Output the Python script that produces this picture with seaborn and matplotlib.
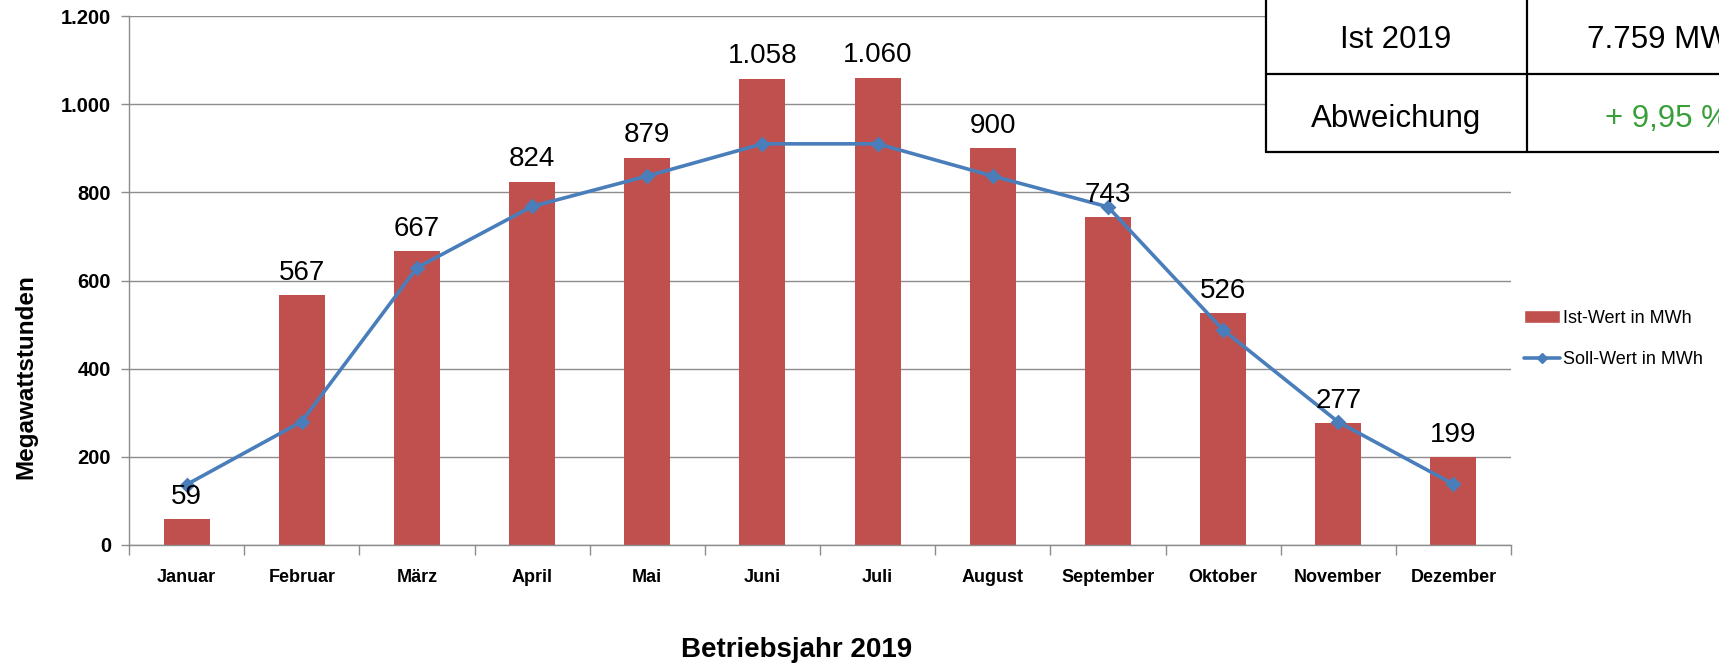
import matplotlib
matplotlib.use("Agg")
import matplotlib.pyplot as plt
import seaborn as sns
import pandas as pd
from matplotlib.lines import Line2D
from matplotlib.patches import Patch, Rectangle
from matplotlib.ticker import FuncFormatter

# Daten
monate = ["Januar", "Februar", "März", "April", "Mai", "Juni", "Juli",
          "August", "September", "Oktober", "November", "Dezember"]
ist_mwh = [59, 567, 667, 824, 879, 1058, 1060, 900, 743, 526, 277, 199]
soll_mwh = [137, 280, 629, 768, 837, 910, 910, 837, 767, 488, 279, 138]

tabelle_links = ["Ist 2019", "Abweichung"]
tabelle_rechts = ["7.759 MWh", "+ 9,95 %"]

ROT = "#C0504D"
BLAU = "#4A7EBB"
GRAU = "#8C8C8C"
GRUEN = "#3A9F3A"


def de(v, pos=None):
    return f"{v:,.0f}".replace(",", ".")


sns.set_theme(style="white")
plt.rcParams["font.family"] = ["Liberation Sans", "DejaVu Sans"]
plt.rcParams.update({"text.color": "black", "axes.labelcolor": "black",
                     "xtick.color": "black", "ytick.color": "black"})
SCHMAL = ["Liberation Sans Narrow", "Liberation Sans", "DejaVu Sans"]

W, H = 1719, 665
fig = plt.figure(figsize=(W / 100, H / 100), dpi=100)
ax = fig.add_axes([129 / W, 1 - 545 / H, (1511 - 129) / W, (545 - 16) / H])

df = pd.DataFrame({"Monat": monate, "Ist": ist_mwh, "Soll": soll_mwh})

sns.barplot(data=df, x="Monat", y="Ist", color=ROT, saturation=1, width=0.4,
            linewidth=0, ax=ax, zorder=2)
sns.pointplot(data=df, x="Monat", y="Soll", color=BLAU, marker="D",
              markersize=6, linewidth=2.6, errorbar=None, ax=ax, zorder=3)

# Datenbeschriftungen
for i, v in enumerate(ist_mwh):
    ax.annotate(de(v), (i, v), xytext=(0, 11), textcoords="offset points",
                ha="center", va="baseline", fontsize=20, color="black", zorder=4)

ax.set_xlim(-0.5, 11.5)
ax.set_ylim(0, 1200)
ax.set_yticks(range(0, 1201, 200))
ax.yaxis.set_major_formatter(FuncFormatter(de))
ax.set_xlabel("")
ax.set_ylabel("")

ax.yaxis.grid(True, color=GRAU, lw=1)
ax.xaxis.grid(False)
ax.set_axisbelow(True)
for s in ["top", "right"]:
    ax.spines[s].set_visible(False)
for s in ["left", "bottom"]:
    ax.spines[s].set_color(GRAU)
    ax.spines[s].set_linewidth(1)

ax.set_xticks(range(12))
ax.set_xticklabels(monate, fontfamily=SCHMAL, fontweight="bold", fontsize=13)
ax.set_xticks([i - 0.5 for i in range(13)], minor=True)
ax.tick_params(axis="x", which="major", bottom=True, length=0, pad=17)
ax.tick_params(axis="x", which="minor", bottom=True, length=7, color=GRAU, width=1)
ax.tick_params(axis="y", left=True, length=6, color=GRAU, width=1, pad=7)
for t in ax.get_yticklabels():
    t.set_fontweight("bold")
    t.set_fontsize(14.5)

# Legende
handles = [Patch(facecolor=ROT, label="Ist-Wert in MWh"),
           Line2D([], [], color=BLAU, lw=2.6, marker="D", markersize=5,
                  label="Soll-Wert in MWh")]
ax.legend(handles=handles, loc="center left",
          bbox_to_anchor=(1524 / W, 1 - 339 / H), bbox_transform=fig.transFigure,
          frameon=False, fontsize=13, handlelength=2.0, handletextpad=0.15,
          labelspacing=1.35, borderpad=0, borderaxespad=0)

# Achsentitel
fig.text(797 / W, 1 - 650 / H, "Betriebsjahr 2019", ha="center", va="center",
         fontsize=20, fontweight="bold")
fig.text(26 / W, 1 - 377 / H, "Megawattstunden", rotation=90, ha="center",
         va="center", fontsize=17.5, fontweight="bold")

# Tabelle oben rechts
def fx(x):
    return x / W


def fy(y):
    return 1 - y / H


fig.add_artist(Rectangle((fx(1266), fy(152)), 1, 0.5, transform=fig.transFigure,
                         facecolor="white", edgecolor="none", zorder=5))
linien = [((1266, 1266), (-10, 152)), ((1527, 1527), (-10, 152)),
          ((1266, 1730), (74, 74)), ((1266, 1730), (152, 152))]
for xs, ys in linien:
    fig.add_artist(Line2D([fx(xs[0]), fx(xs[1])], [fy(ys[0]), fy(ys[1])],
                          transform=fig.transFigure, color="black", lw=1.6,
                          zorder=6))

for k, (links, rechts) in enumerate(zip(tabelle_links, tabelle_rechts)):
    base = 48 + k * 79
    fig.text(fx(1396), fy(base), links, ha="center", va="baseline",
             fontsize=22.5, zorder=7)
    fig.text(fx(1667), fy(base), rechts, ha="center", va="baseline",
             fontsize=22.5, color="black" if k == 0 else GRUEN, zorder=7)

fig.savefig("out.png", dpi=100)
